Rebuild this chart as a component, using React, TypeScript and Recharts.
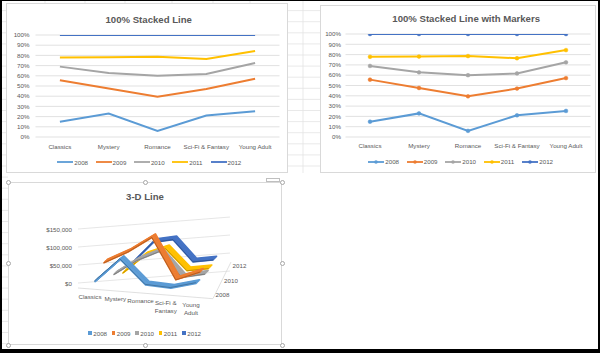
import React from 'react';
import { LineChart, Line, XAxis, YAxis, CartesianGrid } from 'recharts';

// ---------- data ----------
const CATEGORIES = ['Classics', 'Mystery', 'Romance', 'Sci-Fi & Fantasy', 'Young Adult'];
const YEARS = ['2008', '2009', '2010', '2011', '2012'];
const SALES_2008 = [23500, 90500, 25000, 21500, 40500];
const SALES_2009 = [64500, 97500, 141000, 26500, 51000];
const SALES_2010 = [21000, 60000, 86000, 15000, 24500];
const SALES_2011 = [14000, 60500, 78000, 15000, 19000];
const SALES_2012 = [35000, 86500, 90000, 24000, 25000];
const SALES = [SALES_2008, SALES_2009, SALES_2010, SALES_2011, SALES_2012];
const PCT_TICKS = [0, 10, 20, 30, 40, 50, 60, 70, 80, 90, 100];
const DOLLAR_TICKS = [0, 50000, 100000, 150000];

const COLORS = ['#5B9BD5', '#ED7D31', '#A5A5A5', '#FFC000', '#4472C4'];
const EDGE_COLORS = ['#41719C', '#AE5A21', '#7A7A7A', '#BC8C00', '#2F528F'];

// 100% stacked (cumulative share) table
const stackedRows = CATEGORIES.map((cat, c) => {
  const total = SALES.reduce((s, arr) => s + arr[c], 0);
  let cum = 0;
  const row: any = { cat };
  YEARS.forEach((y, i) => {
    cum += SALES[i][c];
    row[y] = (cum / total) * 100;
  });
  return row;
});
const rawRows = CATEGORIES.map((cat, c) => {
  const row: any = { cat };
  YEARS.forEach((y, i) => (row[y] = SALES[i][c]));
  return row;
});

// ---------- styles ----------
const FONT = "'Liberation Sans', Arial, sans-serif";
const TXT = '#595959';
const GRID = '#D9D9D9';
const FS = 6.2;

function Frame({ x, y, w, h }: any) {
  return (
    <div
      style={{
        position: 'absolute', left: x, top: y, width: w, height: h,
        border: '1px solid #D9D9D9', boxSizing: 'border-box', background: '#fff',
      }}
    />
  );
}

function Title({ cx, cy, text }: any) {
  return (
    <div
      style={{
        position: 'absolute', left: cx - 150, top: cy - 8, width: 300, height: 16,
        lineHeight: '16px', textAlign: 'center', fontFamily: FONT, fontSize: 9.6,
        fontWeight: 'bold', color: TXT, whiteSpace: 'nowrap',
      }}
    >
      {text}
    </div>
  );
}

function LineLegend({ x0, pitch, cy, markers }: any) {
  return (
    <>
      {YEARS.map((y, i) => (
        <div
          key={y}
          style={{
            position: 'absolute', left: x0 + i * pitch, top: cy - 6, height: 12,
            display: 'flex', alignItems: 'center', fontFamily: FONT, fontSize: FS,
            color: TXT, whiteSpace: 'nowrap',
          }}
        >
          <svg width={16} height={12} style={{ display: 'block' }}>
            <line x1={0} y1={6} x2={16} y2={6} stroke={COLORS[i]} strokeWidth={1.8} />
            {markers && <circle cx={8} cy={6} r={1.8} fill={COLORS[i]} />}
          </svg>
          <span style={{ marginLeft: 1 }}>{y}</span>
        </div>
      ))}
    </>
  );
}

function SquareLegend({ x0, pitch, cy }: any) {
  return (
    <>
      {YEARS.map((y, i) => (
        <div
          key={y}
          style={{
            position: 'absolute', left: x0 + i * pitch, top: cy - 6, height: 12,
            display: 'flex', alignItems: 'center', fontFamily: FONT, fontSize: FS,
            color: TXT, whiteSpace: 'nowrap',
          }}
        >
          <div style={{ width: 3.5, height: 3.5, background: COLORS[i] }} />
          <span style={{ marginLeft: 1.5 }}>{y}</span>
        </div>
      ))}
    </>
  );
}

function Stacked2D({ f, p, yLabelRight, xLabelCy, markers }: any) {
  const yw = p.l - f.x;
  const xh = 20;
  const pad = (p.r - p.l) / 10;
  return (
    <div style={{ position: 'absolute', left: f.x, top: f.y }}>
      <LineChart
        width={f.w}
        height={f.h}
        data={stackedRows}
        margin={{ top: p.t - f.y, right: f.x + f.w - p.r, bottom: f.y + f.h - p.b - xh, left: 0 }}
      >
        <CartesianGrid vertical={false} stroke={GRID} strokeWidth={0.8} />
        <XAxis
          dataKey="cat" scale="point" padding={{ left: pad, right: pad }}
          axisLine={false} tickLine={false} tickSize={0} tickMargin={xLabelCy - p.b - 2.3}
          height={xh} interval={0} tick={{ fontSize: FS, fill: TXT, fontFamily: FONT }}
        />
        <YAxis
          type="number" domain={[0, 100]} allowDataOverflow ticks={PCT_TICKS} interval={0}
          tickFormatter={(v: number) => `${v}%`} width={yw} axisLine={false} tickLine={false}
          tickSize={0} tickMargin={p.l - yLabelRight} tick={{ fontSize: FS, fill: TXT, fontFamily: FONT }}
        />
        {YEARS.map((y, i) => (
          <Line
            key={y} type="linear" dataKey={y} stroke={COLORS[i]} strokeWidth={2}
            dot={markers ? { r: 1.9, fill: COLORS[i], stroke: COLORS[i], strokeWidth: 0.5 } : false}
            isAnimationActive={false}
          />
        ))}
      </LineChart>
    </div>
  );
}

// ---------- 3-D line ----------
const G_FRONT = { lx: 94.5, rx: 195.5, fl: 289.5, fr: 297.5 };
const G_BACK = { lx: 132.5, rx: 212.5, fl: 274.5, fr: 268.5 };
const geom = (i: number) => {
  const t = i / (YEARS.length - 1);
  const L = (a: number, b: number) => a + (b - a) * t;
  return { lx: L(G_FRONT.lx, G_BACK.lx), rx: L(G_FRONT.rx, G_BACK.rx), fl: L(G_FRONT.fl, G_BACK.fl), fr: L(G_FRONT.fr, G_BACK.fr) };
};
const H3 = 54;
const M3 = 8;
const RIB = { x: 3.6, y: -3.6 };
const COPIES = 6;
const FLOOR_L = 78;
const FLOOR_R = 213;

function CatTick({ x, y, payload, ang }: any) {
  const label = String(payload.value);
  const sp = label.lastIndexOf(' ');
  const lines = label.length > 8 && sp > 0 ? [label.slice(0, sp), label.slice(sp + 1)] : [label];
  return (
    <g transform={`translate(${x},${y}) skewY(${-ang})`}>
      <text textAnchor="middle" fontSize={FS} fill={TXT} fontFamily={FONT}>
        {lines.map((l, k) => (
          <tspan key={k} x={-4.5} dy={k === 0 ? 9.3 : 8.2}>{l}</tspan>
        ))}
      </text>
    </g>
  );
}

function DollarTick({ x, y, payload, ang }: any) {
  return (
    <g transform={`translate(${x},${y}) skewY(${-ang})`}>
      <text textAnchor="end" dy="0.35em" fontSize={FS} fill={TXT} fontFamily={FONT}>
        {`$${Number(payload.value).toLocaleString('en-US')}`}
      </text>
    </g>
  );
}

function Ribbon({ idx, dx, dy, color, sw, axis }: any) {
  const g = geom(idx);
  const tan = (g.fr - g.fl) / (g.rx - g.lx);
  const ang = (Math.atan(tan) * 180) / Math.PI;
  const padL = axis ? g.lx - FLOOR_L : 0;
  const padR = axis ? FLOOR_R - g.rx : 0;
  const pl = g.lx - padL;
  const w = g.rx + padR - pl;
  const floorL = g.fl - padL * tan;
  const ax = axis ? 26 : 0;
  const width = w + 2 * M3;
  const height = H3 + 2 * M3 + ax;
  return (
    <div
      style={{
        position: 'absolute', left: pl - M3, top: floorL - H3 - M3,
        transform: `translate(${dx}px, ${dy}px) skewY(${ang}deg)`,
        transformOrigin: `${M3}px ${M3 + H3}px`,
      }}
    >
      <LineChart width={width} height={height} data={rawRows} margin={{ top: M3, right: M3, bottom: M3, left: M3 }}>
        <XAxis
          dataKey="cat" scale="point" padding={{ left: padL, right: padR }} hide={!axis}
          height={ax || 1} axisLine={{ stroke: GRID, strokeWidth: 0.8 }} tickLine={false}
          tickSize={0} tickMargin={0} interval={0}
          tick={(p: any) => <CatTick {...p} ang={ang} />}
        />
        <YAxis type="number" domain={[0, 150000]} hide />
        <Line
          type="linear" dataKey={YEARS[idx]} stroke={color} strokeWidth={sw} dot={false}
          strokeLinejoin="round" strokeLinecap="round" isAnimationActive={false}
        />
      </LineChart>
    </div>
  );
}

function Wall3D() {
  const yw = 40;
  const left = 78;
  const top = 229;
  const w = 152;
  const ang = -4.5;
  return (
    <div
      style={{
        position: 'absolute', left: left - yw, top: top - M3,
        transform: `skewY(${ang}deg)`, transformOrigin: `${yw}px ${M3 + H3}px`,
      }}
    >
      <LineChart width={yw + w + M3} height={H3 + 2 * M3} data={rawRows} margin={{ top: M3, right: M3, bottom: M3, left: 0 }}>
        <CartesianGrid vertical={false} stroke="#E0E0E0" strokeWidth={0.8} />
        <XAxis dataKey="cat" scale="point" hide />
        <YAxis
          type="number" domain={[0, 150000]} ticks={DOLLAR_TICKS} interval={0} width={yw}
          axisLine={false} tickLine={false} tickSize={0} tickMargin={6}
          tick={(p: any) => <DollarTick {...p} ang={ang} />}
        />
        <Line dataKey={YEARS[YEARS.length - 1]} stroke="none" dot={false} activeDot={false} isAnimationActive={false} />
      </LineChart>
    </div>
  );
}

function Line3D() {
  const order = YEARS.map((_, i) => YEARS.length - 1 - i); // back to front
  const items: any[] = [];
  order.forEach((i) => {
    for (let k = COPIES - 1; k >= 0; k--) {
      const t = k / (COPIES - 1);
      items.push(
        <Ribbon key={`${i}-${k}`} idx={i} dx={RIB.x * t} dy={RIB.y * t} color={COLORS[i]} sw={1.6} axis={false} />
      );
    }
    items.push(
      <Ribbon key={`${i}-edge`} idx={i} dx={0} dy={0} color={EDGE_COLORS[i]} sw={0.9} axis={i === 0} />
    );
  });
  return <>{items}</>;
}

function Handles({ x, y, w, h }: any) {
  const pts = [
    [x, y], [x + w / 2, y], [x + w, y],
    [x, y + h / 2], [x + w, y + h / 2],
    [x, y + h], [x + w / 2, y + h], [x + w, y + h],
  ];
  return (
    <>
      {pts.map(([px, py], k) => (
        <div
          key={k}
          style={{
            position: 'absolute', left: px - 2.5, top: py - 2.5, width: 5, height: 5,
            borderRadius: '50%', border: '0.8px solid #A6A6A6', background: '#fff', boxSizing: 'border-box',
          }}
        />
      ))}
    </>
  );
}

function SheetLines() {
  const rows: number[] = [];
  for (let y = 10.6; y < 353; y += 11.1) rows.push(y);
  const cols = [45, 85, 125, 172, 213, 250];
  return (
    <svg style={{ position: 'absolute', left: 0, top: 0 }} width={600} height={353}>
      {rows.filter((y) => y < 173).map((y, k) => (
        <line key={`s${k}`} x1={288} x2={320} y1={y} y2={y} stroke="#E3E3E3" strokeWidth={0.8} />
      ))}
      {rows.map((y, k) => (
        <line key={`l${k}`} x1={2} x2={8} y1={y} y2={y} stroke="#E3E3E3" strokeWidth={0.8} />
      ))}
      {cols.map((x, k) => (
        <line key={`c${k}`} x1={x} x2={x} y1={0} y2={4} stroke="#E3E3E3" strokeWidth={0.8} />
      ))}
      <line x1={303} x2={303} y1={0} y2={173} stroke="#E3E3E3" strokeWidth={0.8} />
    </svg>
  );
}

export default function App() {
  const f1 = { x: 6, y: 3, w: 282, h: 170 };
  const p1 = { l: 35.5, r: 279.5, t: 35, b: 137 };
  const f2 = { x: 320, y: 5, w: 276, h: 168 };
  const p2 = { l: 345.5, r: 590.5, t: 34, b: 137 };
  const f3 = { x: 8, y: 182, w: 274, h: 163 };
  return (
    <div style={{ position: 'absolute', left: 0, top: 0, width: 600, height: 353, background: '#fff', overflow: 'hidden' }}>
      <SheetLines />

      {/* Chart 1 */}
      <Frame {...f1} />
      <Title cx={148.7} cy={20} text="100% Stacked Line" />
      <Stacked2D f={f1} p={p1} yLabelRight={29.5} xLabelCy={146.7} markers={false} />
      <LineLegend x0={57.3} pitch={38.3} cy={162.3} markers={false} />

      {/* Chart 2 */}
      <Frame {...f2} />
      <Title cx={466.2} cy={19.3} text="100% Stacked Line with Markers" />
      <Stacked2D f={f2} p={p2} yLabelRight={341} xLabelCy={146} markers />
      <LineLegend x0={368.3} pitch={38.5} cy={161.7} markers />

      {/* Chart 3 */}
      <Frame {...f3} />
      <Title cx={145} cy={197} text="3-D Line" />
      <Wall3D />
      <Line3D />
      <svg style={{ position: 'absolute', left: 0, top: 0 }} width={600} height={353}>
        <line x1={FLOOR_R} y1={298.5} x2={231} y2={262} stroke={GRID} strokeWidth={0.8} />
        {YEARS.map((y, i) =>
          i % 2 === 0 ? (
            <text key={y} x={geom(i).rx + 27} y={geom(i).fr - 2.5} dy="0.35em" textAnchor="middle" fontSize={FS} fill={TXT} fontFamily={FONT}>
              {y}
            </text>
          ) : null
        )}
      </svg>
      <SquareLegend x0={88.3} pitch={23.5} cy={333} />
      <Handles {...f3} />
      <div style={{ position: 'absolute', left: 266, top: 178, width: 14, height: 4, border: '0.8px solid #BFBFBF', background: '#fff', boxSizing: 'border-box' }} />

      {/* outer black border */}
      <div
        style={{
          position: 'absolute', left: 0, top: 0, width: 600, height: 353, boxSizing: 'border-box',
          borderStyle: 'solid', borderColor: '#000', borderWidth: '1px 2px 4px 2px',
        }}
      />
    </div>
  );
}
